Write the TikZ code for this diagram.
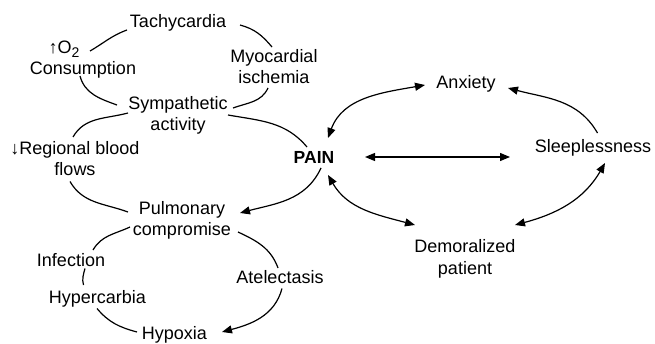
\documentclass[tikz,border=0pt]{standalone}
\usepackage{fontspec}
\setmainfont{Liberation Sans}
\usetikzlibrary{arrows.meta}
\begin{document}
\begin{tikzpicture}[x=1pt,y=1pt,
  lbl/.style={inner sep=0pt, align=center, font=\fontsize{18}{21.5}\selectfont, text=black},
  ln/.style={line width=1.2pt},
  arr/.style={ln,-{Triangle[length=10pt,width=8pt]}},
  darr/.style={ln,{Triangle[length=10pt,width=8pt]}-{Triangle[length=10pt,width=8pt]}}]
\useasboundingbox (0,0) rectangle (655,343);
% nodes
\node[lbl,anchor=base] (tach) at (178,315) {Tachycardia};
\node[lbl] (o2) at (83,283.5) {↑O\raisebox{-4pt}{\fontsize{14}{14}\selectfont 2}\kern38pt\\[-1pt]Consumption};
\node[lbl] (myo) at (274,276.5) {Myocardial\\ischemia};
\node[lbl] (symp) at (178,227.5) {Sympathetic\\activity};
\node[lbl] (reg) at (75,184.5) {↓Regional blood\\flows};
\node[lbl,anchor=base,font=\fontsize{17.5}{21.5}\selectfont\bfseries] (pain) at (314,179) {PAIN};
\node[lbl] (pulm) at (182,122.8) {Pulmonary\\compromise};
\node[lbl,anchor=base] (inf) at (71,76.5) {Infection};
\node[lbl,anchor=base] (hyperc) at (97.5,39.5) {Hypercarbia};
\node[lbl,anchor=base] (atel) at (280,59.7) {Atelectasis};
\node[lbl,anchor=base] (hypox) at (174.5,3.7) {Hypoxia};
\node[lbl,anchor=base] (anx) at (466,254.7) {Anxiety};
\node[lbl,anchor=base] (sleep) at (593,190.7) {Sleeplessness};
\node[lbl] (demor) at (465,84) {Demoralized\\patient};
% connectors
\draw[ln] ([shift={(-51,-2)}]tach.base) to[out=200,in=30] ([shift={(7,8.5)}]o2.center);
\draw[ln] ([shift={(62,3)}]tach.base) to[out=-15,in=130] ([shift={(-2,19.5)}]myo.center);
\draw[ln] ([shift={(-3,-16.5)}]o2.center) to[out=-75,in=160] ([shift={(-61,10.5)}]symp.center);
\draw[ln] ([shift={(-6,-21.5)}]myo.center) to[out=-115,in=20] ([shift={(55,7.5)}]symp.center);
\draw[ln] ([shift={(-50,2.5)}]symp.center) to[out=195,in=60] ([shift={(-2,21.5)}]reg.center);
\draw[ln] ([shift={(50,0.5)}]symp.center) to[out=-10,in=130] ([shift={(-7,17)}]pain.base);
\draw[ln] ([shift={(-5,-23)}]reg.center) to[out=-60,in=160] ([shift={(-54,8.2)}]pulm.center);
\draw[arr] ([shift={(7,-4)}]pain.base) to[out=-115,in=15] ([shift={(58,7.2)}]pulm.center);
\draw[ln] ([shift={(-52,-6.8)}]pulm.center) to[out=-155,in=60] ([shift={(22,16.5)}]inf.base);
\draw[ln] ([shift={(14,-2)}]inf.base) to[out=-105,in=105] ([shift={(-14,18.5)}]hyperc.base);
\draw[ln] ([shift={(-0.5,-5)}]hyperc.base) to[out=-50,in=165] ([shift={(-37.5,7.3)}]hypox.base);
\draw[ln] ([shift={(56,-11.8)}]pulm.center) to[out=-25,in=110] ([shift={(-2,15.3)}]atel.base);
\draw[arr] ([shift={(2,-5.2)}]atel.base) to[out=-105,in=15] ([shift={(47.5,7.3)}]hypox.base);
\draw[darr] ([shift={(14,26)}]pain.base) to[out=70,in=190] ([shift={(-41,3.3)}]anx.base);
\draw[arr] ([shift={(4.5,19.3)}]sleep.base) to[out=120,in=-15] ([shift={(42,0.3)}]anx.base);
\draw[darr] ([shift={(51,7)}]pain.base) -- ([shift={(-83,-4.7)}]sleep.base);
\draw[darr] ([shift={(14,-11)}]pain.base) to[out=-60,in=165] ([shift={(-50,34)}]demor.center);
\draw[darr] ([shift={(50,34)}]demor.center) to[out=15,in=-120] ([shift={(12,-10.7)}]sleep.base);
\end{tikzpicture}
\end{document}
